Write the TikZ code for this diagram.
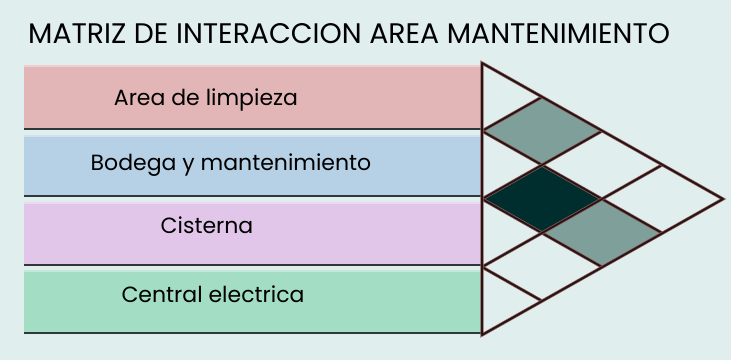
\documentclass[tikz,border=0pt]{standalone}
\usepackage{fontspec}
\setmainfont{Poppins}
\usetikzlibrary{positioning,calc}
\definecolor{mxBack}   {RGB}{225,238,238}
\definecolor{mxRose}   {RGB}{226,182,182}
\definecolor{mxBlue}   {RGB}{182,209,230}
\definecolor{mxLilac}  {RGB}{225,198,234}
\definecolor{mxMint}   {RGB}{162,221,196}
\definecolor{mxShade}  {RGB}{ 46, 56, 56}
\definecolor{mxGrey}   {RGB}{127,159,155}
\definecolor{mxDark}   {RGB}{  0, 46, 46}
\definecolor{mxLine}   {RGB}{ 38, 20, 20}
\definecolor{mxHalo}   {RGB}{140, 90, 90}

\begin{document}
\begin{tikzpicture}[
  x=1pt,y=-1pt,
  areabox/.style={anchor=north west,inner sep=0pt,minimum width=458pt,
                  minimum height=#1},
  areabox/.default=63pt,
  arealabel/.style={font=\fontsize{22}{26}\selectfont,inner sep=0pt,anchor=base},
  gridline/.style={mxLine,line width=1.8pt,line join=round,line cap=round,
                   preaction={draw=mxHalo,line width=3.2pt}},
]
\fill[mxBack] (0,0) rectangle (731,360);
\node[anchor=base west,inner sep=0pt,font=\fontsize{28.3}{32}\selectfont] (title)
   at (28,43) {MATRIZ DE INTERACCION AREA MANTENIMIENTO};

% areas
\node[areabox=64pt,fill=mxRose]  (limpieza) at (24,65)  {};
\node[areabox=61pt,fill=mxBlue]  (bodega)   at (24,135) {};
\node[areabox=63pt,fill=mxLilac] (cisterna) at (24,202) {};
\node[areabox=63pt,fill=mxMint]  (central)  at (24,270) {};
\foreach \a in {limpieza,bodega,cisterna,central}{
  \draw[mxShade,line width=2pt] (\a.south west) -- (\a.south east);
  \draw[white,opacity=0.35,line width=1.5pt] ([yshift=-0.75pt]\a.north west) -- ([yshift=-0.75pt]\a.north east);
}
\node[arealabel] (tlimpieza) at (206,105) {Area de limpieza};
\node[arealabel] (tbodega)   at (231,170) {Bodega y mantenimiento};
\node[arealabel] (tcisterna) at (207,233) {Cisterna};
\node[arealabel] (tcentral)  at (213,302) {Central electrica};

% interaction matrix
\foreach \k in {0,...,4}
  \coordinate (L\k) at (482,63+68*\k);
\coordinate (apex) at (723,199);
\fill[mxGrey] (L1) -- ++(60,-34) -- ++(60,34) -- ++(-60,34) -- cycle;
\fill[mxDark] (L2) -- ++(60,-34) -- ++(60,34) -- ++(-60,34) -- cycle;
\fill[mxGrey] ($(L3)+(60,-34)$) -- ++(60,-34) -- ++(60,34) -- ++(-60,34) -- cycle;
\foreach \k in {1,2,3}{
  \draw[gridline] (L\k) -- ++(60*\k,-34*\k);
  \draw[gridline] (L\k) -- ++({60*(4-\k)},{34*(4-\k)});
}
\draw[gridline] (L0) -- (apex) -- (L4) -- cycle;
\end{tikzpicture}
\end{document}
